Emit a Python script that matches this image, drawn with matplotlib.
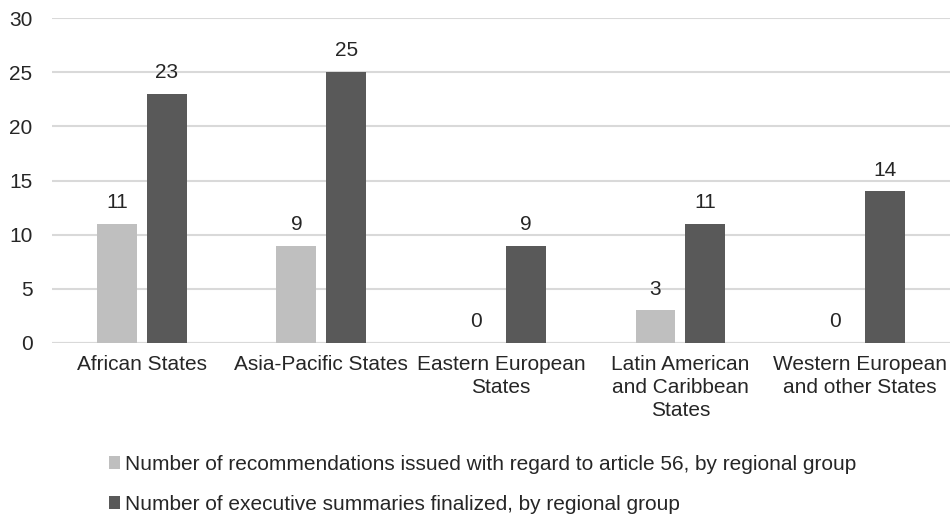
import matplotlib
matplotlib.use("Agg")
import matplotlib.pyplot as plt
import numpy as np

plt.rcParams['font.family'] = ['Liberation Sans', 'DejaVu Sans']

categories = ["African States", "Asia-Pacific States", "Eastern European\nStates",
              "Latin American\nand Caribbean\nStates", "Western European\nand other States"]
recommendations = [11, 9, 0, 3, 0]
summaries = [23, 25, 9, 11, 14]
series_names = ["Number of recommendations issued with regard to article 56, by regional group",
                "Number of executive summaries finalized, by regional group"]
y_ticks = [0, 5, 10, 15, 20, 25, 30]

light = "#bfbfbf"
dark = "#595959"
text_color = "#262626"
fs = 15

fig = plt.figure(figsize=(9.53, 5.15), dpi=100)
ax = fig.add_axes([0.0546, 0.334, 0.942, 0.631])

x = np.arange(len(categories))
w = 0.222
off = 0.139
b1 = ax.bar(x - off, recommendations, w, color=light, label=series_names[0], zorder=3)
b2 = ax.bar(x + off, summaries, w, color=dark, label=series_names[1], zorder=3)

# value labels above each bar
for bars, vals in ((b1, recommendations), (b2, summaries)):
    for rect, v in zip(bars, vals):
        ax.annotate(f"{v}", (rect.get_x() + rect.get_width() / 2, v),
                    xytext=(0, 8.5), textcoords="offset points",
                    ha="center", va="bottom", fontsize=fs, color=text_color)

ax.set_xlim(-0.5, len(categories) - 0.5)
ax.set_ylim(0, 30)
ax.set_yticks(y_ticks)
ax.set_xticks(x)
ax.set_xticklabels(categories, fontsize=fs, color=text_color, linespacing=1.26)
ax.tick_params(axis='y', labelsize=fs, labelcolor=text_color, length=0, pad=14)
ax.tick_params(axis='x', length=0, pad=9)
ax.yaxis.grid(True, color="#d9d9d9", linewidth=1.5, zorder=0)
for s in ax.spines.values():
    s.set_visible(False)
ax.axhline(0, color="#d9d9d9", linewidth=1.5, zorder=2)

fig.legend(handles=[b1, b2], loc="upper left", bbox_to_anchor=(0.1144, 0.1165),
           bbox_transform=fig.transFigure, frameon=False, ncol=1,
           fontsize=fs, labelcolor=text_color, handlelength=0.53, handleheight=0.53,
           handletextpad=0.25, labelspacing=1.0, borderaxespad=0, borderpad=0)

fig.savefig("out.png", dpi=100)
